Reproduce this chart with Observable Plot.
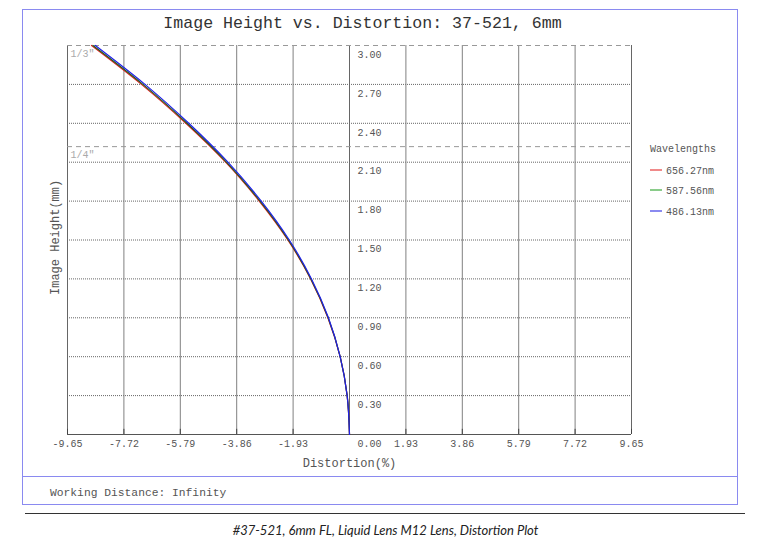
<!DOCTYPE html>
<html>
<head>
<meta charset="utf-8">
<script src="https://cdn.jsdelivr.net/npm/d3@7"></script>
<script src="https://cdn.jsdelivr.net/npm/@observablehq/plot@0.6"></script>
<style>
  body { margin: 0; background: #fff; }
  #wrap { position: relative; width: 771px; height: 543px; overflow: hidden; }
  #box { position: absolute; left: 22px; top: 9px; width: 714px; height: 494px; border: 1.5px solid #8a8af0; }
  #divider { position: absolute; left: 22px; top: 476px; width: 716px; height: 0; border-top: 1.5px solid #8a8af0; }
  #chart { position: absolute; left: 0; top: 0; }
  .mono { font-family: "Liberation Mono", "DejaVu Sans Mono", monospace; color: #555; }
  #wd { position: absolute; left: 50px; top: 487px; font-size: 11.3px; }
  #legend { position: absolute; left: 650px; top: 142px; font-size: 10px; }
  #legend .row { position: absolute; left: 0; white-space: nowrap; height: 14px; line-height: 14px; }
  #legend .sw { display: inline-block; width: 12px; height: 0; border-top: 2px solid; vertical-align: middle; margin-right: 4px; position: relative; top: -1px; }
  #rule { position: absolute; left: 25px; top: 513px; width: 720px; height: 0; border-top: 1px solid #333; }
  #caption { position: absolute; left: 0; width: 771px; top: 522px; text-align: center; font-family: Lato, "Open Sans", sans-serif; font-style: italic; font-size: 13px; color: #222; }
</style>
</head>
<body>
<div id="wrap">
  <div id="chart"></div>
  <div id="box"></div>
  <div id="divider"></div>
  <div id="wd" class="mono">Working Distance: Infinity</div>
  <div id="legend" class="mono"></div>
  <div id="rule"></div>
  <div id="caption">#37-521, 6mm FL, Liquid Lens M12 Lens, Distortion Plot</div>
</div>
<script>
// ---- data ----
const titleText = "Image Height vs. Distortion: 37-521, 6mm";
const xLabelText = "Distortion(%)";
const yLabelText = "Image Height(mm)";

const xTicks = [-9.65, -7.72, -5.79, -3.86, -1.93, 0, 1.93, 3.86, 5.79, 7.72, 9.65];
const xTickLabels = ["-9.65", "-7.72", "-5.79", "-3.86", "-1.93", "", "1.93", "3.86", "5.79", "7.72", "9.65"];
const yTicks = [0, 0.3, 0.6, 0.9, 1.2, 1.5, 1.8, 2.1, 2.4, 2.7, 3.0];
const yTickLabels = ["0.00", "0.30", "0.60", "0.90", "1.20", "1.50", "1.80", "2.10", "2.40", "2.70", "3.00"];

const sensorHeights = [3.0, 2.22];
const sensorLabels = ["1/3\"", "1/4\""];

const wavelengths = ["656.27nm", "587.56nm", "486.13nm"];
const curveColors = ["#e02020", "#1d5e1d", "#2020e8"];
const legendColors = ["#f08a8a", "#8acc8a", "#8a8af0"];

const imageHeights = [0, 0.3, 0.6, 0.9, 1.2, 1.5, 1.8, 2.1, 2.4, 2.7, 3.0];
const distRed   = [0, -0.08, -0.32, -0.74, -1.33, -2.11, -3.09, -4.24, -5.60, -7.12, -8.83];
const distGreen = [0, -0.08, -0.32, -0.73, -1.32, -2.09, -3.06, -4.21, -5.56, -7.07, -8.78];
const distBlue  = [0, -0.08, -0.32, -0.72, -1.30, -2.06, -3.02, -4.16, -5.50, -7.00, -8.70];

// ---- build ----
const seriesValues = [distRed, distGreen, distBlue];
const rows = [];
wavelengths.forEach((wl, s) => {
  imageHeights.forEach((h, i) => rows.push({wl, h, d: seriesValues[s][i]}));
});

const mono = "Liberation Mono, DejaVu Sans Mono, monospace";
const gridH = yTicks.filter(v => v > 0 && v < 3);

const chart = Plot.plot({
  width: 771,
  height: 476,
  marginLeft: 67,
  marginRight: 140,
  marginTop: 45,
  marginBottom: 42,
  x: {domain: [-9.65, 9.65], axis: null},
  y: {domain: [0, 3], axis: null},
  color: {domain: wavelengths, range: curveColors},
  style: {background: "transparent", overflow: "visible", fontFamily: mono},
  marks: [
    Plot.ruleY(gridH, {stroke: "#666", strokeDasharray: "1,1", strokeWidth: 1}),
    Plot.ruleX(xTicks, {stroke: "#808080", strokeWidth: 1}),
    Plot.ruleX([-9.65, 0, 9.65], {stroke: "#666", strokeWidth: 1}),
    Plot.ruleX(xTicks, {y1: 0, y2: 0.04, stroke: "#444", strokeWidth: 1}),
    Plot.ruleY(sensorHeights, {stroke: "#999", strokeDasharray: "5,4", strokeWidth: 1}),
    Plot.ruleY([0], {stroke: "#555", strokeWidth: 1}),
    Plot.text(sensorHeights, {x: -9.65, y: d => d, text: (d, i) => sensorLabels[i], dx: 3, dy: 8, textAnchor: "start", fontSize: 10, fill: "#aaa"}),
    Plot.line(rows, {x: "d", y: "h", z: "wl", stroke: "wl", curve: "monotone-y", strokeWidth: 1.2}),
    Plot.text(yTicks, {x: 0, y: d => d, text: (d, i) => yTickLabels[i], dx: 8, dy: 9, textAnchor: "start", fontSize: 10, fill: "#555"}),
    Plot.text(xTicks, {x: d => d, y: 0, text: (d, i) => xTickLabels[i], dy: 9, fontSize: 10, fill: "#555"}),
    Plot.text([xLabelText], {x: 0, y: 0, dy: 29, fontSize: 12, fill: "#555"}),
    Plot.text([yLabelText], {x: -9.65, y: 1.52, dx: -12, rotate: -90, fontSize: 12, fill: "#555"}),
    Plot.text([titleText], {frameAnchor: "top", lineAnchor: "middle", dx: 13, dy: -23, fontSize: 16.6, fill: "#333"})
  ]
});
document.getElementById("chart").appendChild(chart);

// legend
const legend = document.getElementById("legend");
const head = document.createElement("div");
head.className = "row";
head.style.top = "1px";
head.textContent = "Wavelengths";
legend.appendChild(head);
const rowTops = [23, 43, 64];
wavelengths.forEach((wl, i) => {
  const r = document.createElement("div");
  r.className = "row";
  r.style.top = rowTops[i] + "px";
  const sw = document.createElement("span");
  sw.className = "sw";
  sw.style.borderTopColor = legendColors[i];
  r.appendChild(sw);
  r.appendChild(document.createTextNode(wl));
  legend.appendChild(r);
});
</script>
</body>
</html>
